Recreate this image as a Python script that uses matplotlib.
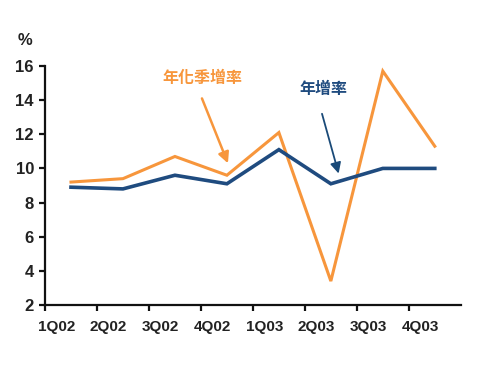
import matplotlib.pyplot as plt
from matplotlib import font_manager

# data
quarters = ['1Q02', '2Q02', '3Q02', '4Q02', '1Q03', '2Q03', '3Q03', '4Q03']
annual_growth = [8.9, 8.8, 9.6, 9.1, 11.1, 9.1, 10.0, 10.0]        # 年增率
annualized_qoq = [9.2, 9.4, 10.7, 9.6, 12.1, 3.4, 15.7, 11.3]      # 年化季增率
y_ticks = [2, 4, 6, 8, 10, 12, 14, 16]

ORANGE = '#F7963C'
BLUE = '#1F4B7F'

names = {f.name for f in font_manager.fontManager.ttflist}
latin = 'Liberation Sans Narrow' if 'Liberation Sans Narrow' in names else 'Liberation Sans'
plt.rcParams['font.family'] = [latin, 'DejaVu Sans']
cjk = ['Noto Sans CJK TC', 'DejaVu Sans']

fig = plt.figure(figsize=(4.84, 3.77), dpi=100)
ax = fig.add_axes([0.093, 0.191, 0.859, 0.634])

x = list(range(len(quarters)))
ax.plot(x, annualized_qoq, color=ORANGE, linewidth=2.2, solid_joinstyle='miter')
ax.plot(x, annual_growth, color=BLUE, linewidth=2.6, solid_joinstyle='miter')

ax.set_xlim(-0.5, len(quarters) - 0.5)
ax.set_ylim(2, 16)

for side in ['top', 'right']:
    ax.spines[side].set_visible(False)
for side in ['left', 'bottom']:
    ax.spines[side].set_linewidth(1.6)
    ax.spines[side].set_color('#111111')

# ticks between categories, labels offset to the right of each tick
ax.set_xticks([i - 0.5 for i in x])
ax.set_xticklabels([])
ax.set_xticks([i - 0.5 + 0.22 for i in x], minor=True)
ax.set_xticklabels(quarters, minor=True)
ax.tick_params(axis='x', which='major', direction='out', length=4, width=1.6, color='#111111')
ax.tick_params(axis='x', which='minor', length=0, pad=11, labelsize=11, labelcolor='#222222')
for lbl in ax.get_xticklabels(minor=True):
    lbl.set_fontweight('bold')

ax.set_yticks(y_ticks)
ax.set_yticklabels([str(v) for v in y_ticks])
ax.tick_params(axis='y', direction='out', length=4, width=1.6, color='#111111',
               labelsize=12, labelcolor='#222222', pad=4)
for lbl in ax.get_yticklabels():
    lbl.set_fontweight('bold')

fig.text(0.052, 0.893, '%', fontsize=12, fontweight='bold', color='#222222',
         ha='center', va='center')

# annotations: label text and a separate arrow for each series
ax.text(2.52, 15.3, '年化季增率', fontsize=11.5, fontweight='bold', color=ORANGE,
        family=cjk, ha='center', va='center')
ax.annotate('', xy=(3.02, 10.3), xytext=(2.52, 14.1),
            arrowprops=dict(arrowstyle='-|>', color=ORANGE, lw=1.8,
                            mutation_scale=16, shrinkA=0, shrinkB=0))
ax.text(4.85, 14.65, '年增率', fontsize=11.5, fontweight='bold', color=BLUE,
        family=cjk, ha='center', va='center')
ax.annotate('', xy=(5.15, 9.7), xytext=(4.83, 13.2),
            arrowprops=dict(arrowstyle='-|>', color='#1A4A78', lw=1.3,
                            mutation_scale=16, shrinkA=0, shrinkB=0))

fig.savefig('out.png', dpi=100)
